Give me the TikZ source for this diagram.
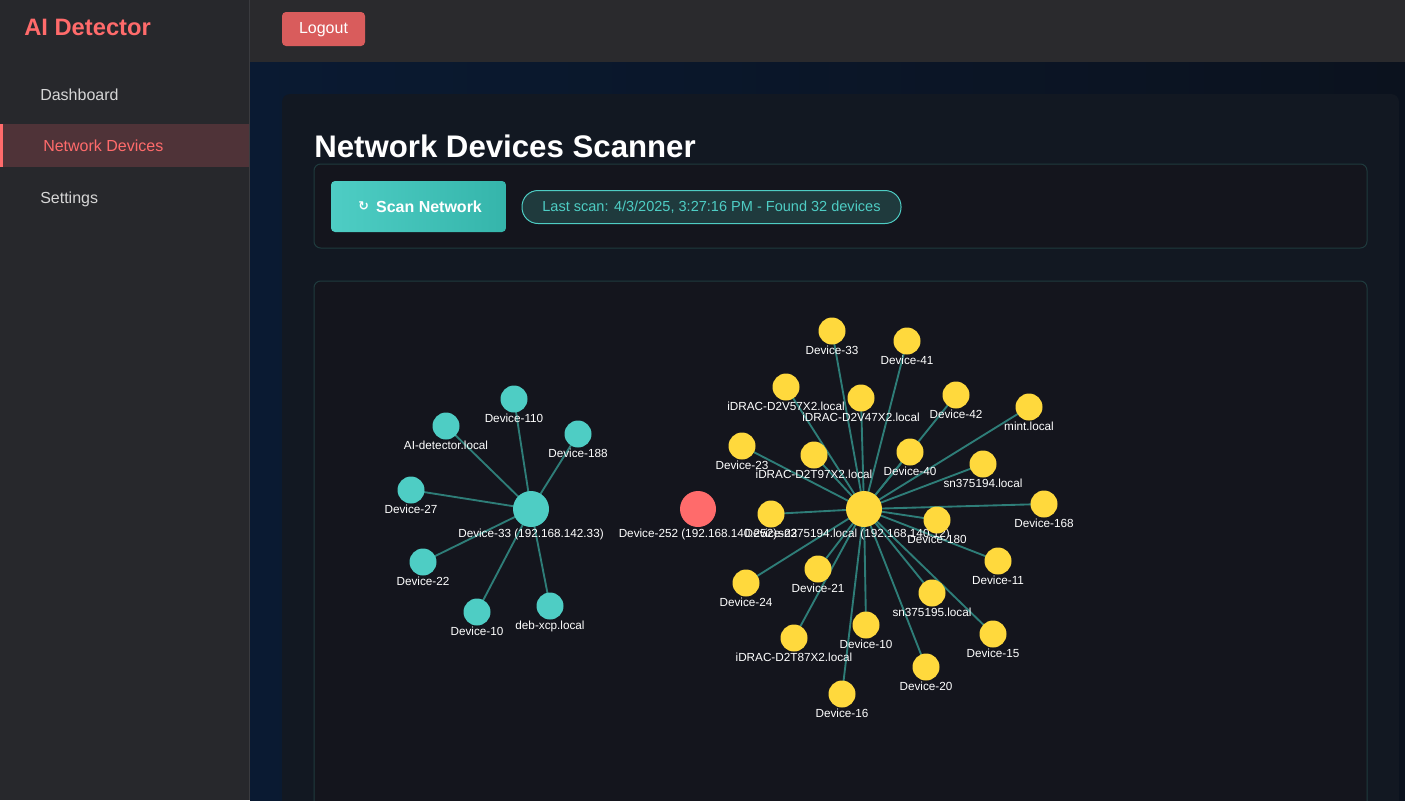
\documentclass[tikz,border=0pt]{standalone}
\usepackage{fontspec}
\setmainfont{Liberation Sans}
\newfontfamily\iconfont{DejaVu Sans}
\usepackage{tikz}
\usetikzlibrary{positioning}

\definecolor{sidebg}{HTML}{27282C}
\definecolor{sideline}{HTML}{3A3B3F}
\definecolor{topbg}{HTML}{2A2A2D}
\definecolor{accent}{HTML}{FF6B6B}
\definecolor{activebg}{HTML}{4F3338}
\definecolor{logoutbg}{HTML}{D95C5C}
\definecolor{navyA}{HTML}{0A1A32}
\definecolor{navyB}{HTML}{0B121E}
\definecolor{cardbg}{HTML}{121822}
\definecolor{panelbg}{HTML}{14151D}
\definecolor{panelline}{HTML}{1F3B3E}
\definecolor{tealdev}{HTML}{4ECDC4}
\definecolor{tealdark}{HTML}{35B5AB}
\definecolor{pillbg}{HTML}{1F3A3D}
\definecolor{golddev}{HTML}{FFD93D}
\definecolor{edgecol}{HTML}{2E7D78}
\definecolor{menutext}{HTML}{D6D6D6}

\pgfdeclarelayer{back}
\pgfdeclarelayer{links}
\pgfsetlayers{back,links,main}

\tikzset{
  dev/.style={circle, inner sep=0pt, minimum size=20.25pt},
  hubdev/.style={circle, inner sep=0pt, minimum size=27pt},
  lbl/.style={text=white, font=\fontsize{8.8}{10}\selectfont, inner sep=1pt},
  link/.style={draw=edgecol, line width=1.4pt},
}

\begin{document}
\begin{tikzpicture}[x=0.75pt, y=-0.75pt]
\useasboundingbox (0,0) rectangle (1405,800);

\begin{pgfonlayer}{back}
% page
\shade[left color=navyA, right color=navyB] (250,0) rectangle (1405,800);
\fill[topbg] (250,0) rectangle (1405,62);
\fill[sidebg] (0,0) rectangle (249,800);
\draw[sideline, line width=0.75pt] (249,0) -- (249,800);
\fill[activebg] (0,124) rectangle (249,167);
\fill[accent] (0,124) rectangle (3,167);
% card and panels
\fill[cardbg, rounded corners=6pt] (282,94) rectangle (1399,820);
\draw[panelline, fill=panelbg, rounded corners=5pt, line width=0.75pt] (314,164) rectangle (1367,248);
\draw[panelline, fill=panelbg, rounded corners=5pt, line width=0.75pt] (314,281) rectangle (1367,830);
\end{pgfonlayer}

% sidebar
\node[anchor=base west, text=accent, font=\fontsize{17.8}{20}\selectfont\bfseries, inner sep=0pt] (logo) at (24,35) {AI Detector};
\node[anchor=base west, text=menutext, font=\fontsize{12}{14}\selectfont, inner sep=0pt] (dash) at (40,100) {Dashboard};
\node[anchor=base west, text=accent, font=\fontsize{12}{14}\selectfont, inner sep=0pt] (netdev) at (43,151) {Network Devices};
\node[anchor=base west, text=menutext, font=\fontsize{12}{14}\selectfont, inner sep=0pt] (sett) at (40,203) {Settings};

% top bar
\node[fill=logoutbg, rounded corners=3pt, minimum width=62.25pt, minimum height=25.5pt, inner sep=0pt,
      text height=8.6pt, text depth=2.6pt,
      text=white, font=\fontsize{12}{14}\selectfont] (logout) at (323.5,29) {Logout};

% header
\node[anchor=base west, text=white, font=\fontsize{23.4}{26}\selectfont\bfseries, inner sep=0pt] (title) at (314,157) {Network Devices Scanner};
\shade[left color=tealdev, right color=tealdark, rounded corners=3pt] (331,181) rectangle (506,232);
\node[text=white, font=\fontsize{12}{14}\selectfont\bfseries, inner sep=0pt] (scan) at (429,206.5) {Scan Network};
\node[text=white, font=\iconfont\fontsize{9.5}{11}\selectfont\bfseries, inner sep=0pt, left=5pt of scan] (scanicon) {↻};
\node[draw=tealdev, fill=pillbg, rounded corners=12pt, minimum width=284.25pt, minimum height=24.75pt, inner sep=0pt,
      line width=0.75pt, text=tealdev, font=\fontsize{10.9}{12}\selectfont] (status) at (711.5,207)
      {Last scan: 4/3/2025, 3:27:16 PM - Found 32 devices};

% first subnet
\node[hubdev, fill=tealdev, label={[lbl]below:Device-33 (192.168.142.33)}] (th) at (531,509) {};
\node[dev, fill=tealdev, label={[lbl]below:Device-110}] (t1) at (514,399) {};
\node[dev, fill=tealdev, label={[lbl]below:AI-detector.local}] (t2) at (446,426) {};
\node[dev, fill=tealdev, label={[lbl]below:Device-188}] (t3) at (578,434) {};
\node[dev, fill=tealdev, label={[lbl]below:Device-27}] (t4) at (411,490) {};
\node[dev, fill=tealdev, label={[lbl]below:Device-22}] (t5) at (423,562) {};
\node[dev, fill=tealdev, label={[lbl]below:Device-10}] (t6) at (477,612) {};
\node[dev, fill=tealdev, label={[lbl]below:deb-xcp.local}] (t7) at (550,606) {};

% lone host
\node[hubdev, fill=accent, label={[lbl]below:Device-252 (192.168.140.252)}] (r) at (698,509) {};

% second subnet
\node[hubdev, fill=golddev, label={[lbl]below:sn375194.local (192.168.140.12)}] (yh) at (864,509) {};
\node[dev, fill=golddev, label={[lbl]below:Device-33}] (y1) at (832,331) {};
\node[dev, fill=golddev, label={[lbl]below:Device-41}] (y2) at (907,341) {};
\node[dev, fill=golddev, label={[lbl]below:iDRAC-D2V57X2.local}] (y3) at (786,387) {};
\node[dev, fill=golddev, label={[lbl]below:iDRAC-D2V47X2.local}] (y4) at (861,398) {};
\node[dev, fill=golddev, label={[lbl]below:Device-42}] (y5) at (956,395) {};
\node[dev, fill=golddev, label={[lbl]below:mint.local}] (y6) at (1029,407) {};
\node[dev, fill=golddev, label={[lbl]below:Device-23}] (y7) at (742,446) {};
\node[dev, fill=golddev, label={[lbl]below:iDRAC-D2T97X2.local}] (y8) at (814,455) {};
\node[dev, fill=golddev, label={[lbl]below:Device-40}] (y9) at (910,452) {};
\node[dev, fill=golddev, label={[lbl]below:sn375194.local}] (y10) at (983,464) {};
\node[dev, fill=golddev, label={[lbl]below:Device-168}] (y11) at (1044,504) {};
\node[dev, fill=golddev, label={[lbl]below:Device-22}] (y12) at (771,514) {};
\node[dev, fill=golddev, label={[lbl]below:Device-180}] (y13) at (937,520) {};
\node[dev, fill=golddev, label={[lbl]below:Device-11}] (y14) at (998,561) {};
\node[dev, fill=golddev, label={[lbl]below:Device-21}] (y15) at (818,569) {};
\node[dev, fill=golddev, label={[lbl]below:Device-24}] (y16) at (746,583) {};
\node[dev, fill=golddev, label={[lbl]below:sn375195.local}] (y17) at (932,593) {};
\node[dev, fill=golddev, label={[lbl]below:Device-15}] (y18) at (993,634) {};
\node[dev, fill=golddev, label={[lbl]below:Device-10}] (y19) at (866,625) {};
\node[dev, fill=golddev, label={[lbl]below:iDRAC-D2T87X2.local}] (y20) at (794,638) {};
\node[dev, fill=golddev, label={[lbl]below:Device-20}] (y21) at (926,667) {};
\node[dev, fill=golddev, label={[lbl]below:Device-16}] (y22) at (842,694) {};

\begin{pgfonlayer}{links}
\foreach \n in {t1,t2,t3,t4,t5,t6,t7}
  \draw[link] (th.center) -- (\n.center);
\foreach \n in {y1,y2,y3,y4,y5,y6,y7,y8,y9,y10,y11,y12,y13,y14,y15,y16,y17,y18,y19,y20,y21,y22}
  \draw[link] (yh.center) -- (\n.center);
\end{pgfonlayer}
\end{tikzpicture}
\end{document}
